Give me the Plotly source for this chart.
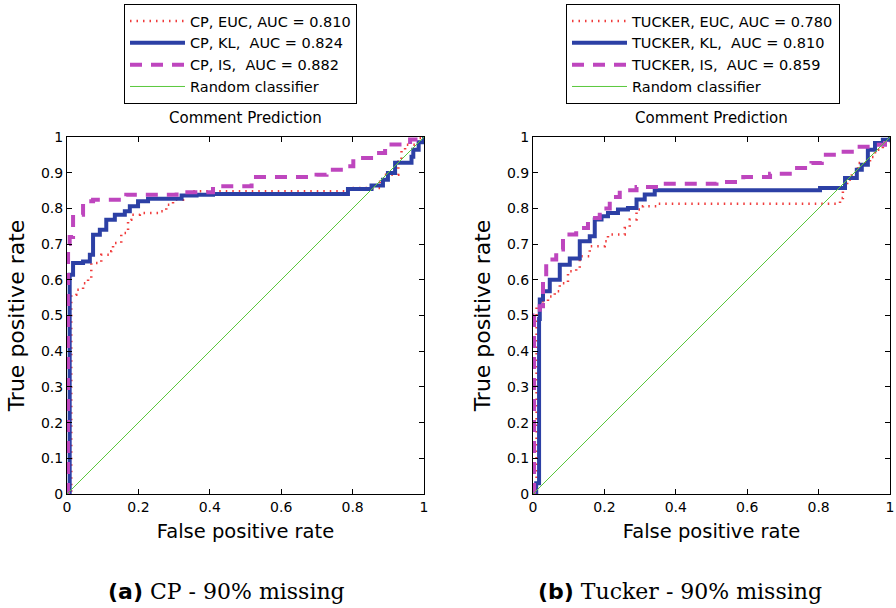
import plotly.graph_objects as go

# ---------------- data ----------------
# Left panel: CP
cp_euc_fpr = [0, 0.012, 0.026, 0.045, 0.059, 0.068, 0.096, 0.124, 0.129, 0.152, 0.171, 0.180, 0.204,
              0.264, 0.278, 0.297, 0.325, 0.353, 0.790, 0.877, 0.886, 0.928, 0.937, 0.947, 0.975, 1.0]
cp_euc_tpr = [0, 0.558, 0.572, 0.590, 0.605, 0.647, 0.670, 0.680, 0.703, 0.731, 0.768, 0.782, 0.787,
              0.792, 0.810, 0.824, 0.836, 0.848, 0.857, 0.875, 0.894, 0.931, 0.964, 0.978, 0.997, 1.0]

cp_kl_fpr = [0, 0.0075, 0.017, 0.045, 0.064, 0.073, 0.092, 0.110, 0.134, 0.162, 0.176, 0.199, 0.227,
             0.321, 0.363, 0.409, 0.787, 0.853, 0.885, 0.899, 0.919, 0.965, 0.970, 0.985, 1.0]
cp_kl_tpr = [0, 0.614, 0.647, 0.651, 0.670, 0.726, 0.740, 0.768, 0.782, 0.792, 0.806, 0.820, 0.827,
             0.836, 0.838, 0.840, 0.854, 0.864, 0.880, 0.899, 0.928, 0.945, 0.964, 0.985, 1.0]

cp_is_fpr = [0, 0.003, 0.0075, 0.017, 0.045, 0.073, 0.166, 0.307, 0.409, 0.517, 0.699, 0.727, 0.783,
             0.802, 0.858, 0.891, 0.961, 1.0]
cp_is_tpr = [0, 0.700, 0.720, 0.782, 0.820, 0.824, 0.838, 0.845, 0.862, 0.888, 0.894, 0.908, 0.918,
             0.941, 0.955, 0.979, 0.993, 1.0]

# Right panel: Tucker
tk_euc_fpr = [0, 0.010, 0.028, 0.042, 0.061, 0.075, 0.098, 0.121, 0.131, 0.159, 0.201, 0.210, 0.257,
              0.271, 0.290, 0.308, 0.346, 0.860, 0.868, 0.880, 0.893, 0.910, 0.944, 0.958, 0.980, 1.0]
tk_euc_tpr = [0, 0.526, 0.540, 0.553, 0.568, 0.590, 0.624, 0.633, 0.666, 0.694, 0.708, 0.727, 0.745,
              0.769, 0.797, 0.806, 0.813, 0.829, 0.860, 0.880, 0.899, 0.927, 0.944, 0.964, 0.985, 1.0]

tk_kl_fpr = [0, 0.009, 0.017, 0.019, 0.028, 0.047, 0.075, 0.103, 0.131, 0.159, 0.173, 0.192, 0.210,
             0.238, 0.266, 0.290, 0.313, 0.341, 0.804, 0.874, 0.907, 0.921, 0.938, 0.958, 0.980, 1.0]
tk_kl_tpr = [0, 0.030, 0.490, 0.545, 0.568, 0.600, 0.642, 0.660, 0.708, 0.722, 0.769, 0.778, 0.787,
             0.797, 0.801, 0.825, 0.839, 0.851, 0.857, 0.885, 0.908, 0.922, 0.964, 0.983, 0.992, 1.0]

tk_is_fpr = [0, 0.003, 0.019, 0.028, 0.037, 0.065, 0.084, 0.121, 0.154, 0.187, 0.215, 0.243, 0.290,
             0.364, 0.514, 0.589, 0.664, 0.728, 0.780, 0.809, 0.860, 0.893, 0.944, 0.986, 1.0]
tk_is_tpr = [0, 0.500, 0.526, 0.610, 0.657, 0.685, 0.727, 0.745, 0.773, 0.800, 0.832, 0.851, 0.860,
             0.869, 0.874, 0.888, 0.897, 0.913, 0.927, 0.950, 0.959, 0.973, 0.978, 1.0, 1.0]

random_fpr = [0, 1]
random_tpr = [0, 1]

cp_names = ["CP, EUC, AUC = 0.810", "CP, KL,  AUC = 0.824", "CP, IS,  AUC = 0.882", "Random classifier"]
tk_names = ["TUCKER, EUC, AUC = 0.780", "TUCKER, KL,  AUC = 0.810", "TUCKER, IS,  AUC = 0.859", "Random classifier"]
panel_title = "Comment Prediction"
x_label = "False positive rate"
y_label = "True positive rate"
captions = ["<b>(a)</b>", "<b>(b)</b>"]
caption_texts = ["CP - 90% missing", "Tucker - 90% missing"]

# ---------------- styling ----------------
RED = "rgb(240,60,60)"
BLUE = "rgb(44,64,165)"
MAG = "rgb(190,70,190)"
GREEN = "rgb(90,200,60)"
FONT = "DejaVu Sans, sans-serif"

styles = [
    dict(color=RED, width=2.5, dash="1.5px,5px"),
    dict(color=BLUE, width=4),
    dict(color=MAG, width=4, dash="12px,9px"),
    dict(color=GREEN, width=1),
]

fig = go.Figure()

panels = [
    ("x", "y", "legend", cp_names,
     [(cp_euc_fpr, cp_euc_tpr), (cp_kl_fpr, cp_kl_tpr), (cp_is_fpr, cp_is_tpr), (random_fpr, random_tpr)]),
    ("x2", "y2", "legend2", tk_names,
     [(tk_euc_fpr, tk_euc_tpr), (tk_kl_fpr, tk_kl_tpr), (tk_is_fpr, tk_is_tpr), (random_fpr, random_tpr)]),
]

for xa, ya, lg, names, series in panels:
    for i, ((fx, ty), nm) in enumerate(zip(series, names)):
        fig.add_trace(go.Scatter(
            x=fx, y=ty, mode="lines", name=nm, xaxis=xa, yaxis=ya, legend=lg,
            line=dict(shape="hv" if i < 3 else "linear", **styles[i]),
        ))

W, H = 896, 608
def px_x(p): return p / W
def px_y(p): return 1 - p / H

ydom = [px_y(494), px_y(137)]
axis_common = dict(
    range=[0, 1], showline=True, linecolor="black", linewidth=1, mirror="ticks",
    ticks="inside", ticklen=5, tickcolor="black", showgrid=False, zeroline=False,
    automargin=False,
    tickfont=dict(family=FONT, size=14, color="black"),
)

fig.update_layout(
    width=W, height=H, margin=dict(l=0, r=0, t=0, b=0, autoexpand=False),
    paper_bgcolor="white", plot_bgcolor="white",
    font=dict(family=FONT, color="black"),
    xaxis=dict(domain=[px_x(67), px_x(424)], anchor="y", dtick=0.2,
               title=dict(text=x_label, font=dict(size=19.5), standoff=10), **axis_common),
    yaxis=dict(domain=ydom, anchor="x", dtick=0.1,
               title=dict(text=y_label, font=dict(size=22), standoff=10), **axis_common),
    xaxis2=dict(domain=[px_x(533), px_x(890)], anchor="y2", dtick=0.2,
                title=dict(text=x_label, font=dict(size=19.5), standoff=10), **axis_common),
    yaxis2=dict(domain=ydom, anchor="x2", dtick=0.1,
                title=dict(text=y_label, font=dict(size=22), standoff=10), **axis_common),
    legend=dict(x=px_x(124), y=px_y(4), xanchor="left", yanchor="top",
                bordercolor="black", borderwidth=1, bgcolor="white",
                font=dict(family=FONT, size=14.5), itemwidth=55, tracegroupgap=0),
    legend2=dict(x=px_x(566), y=px_y(4), xanchor="left", yanchor="top",
                 bordercolor="black", borderwidth=1, bgcolor="white",
                 font=dict(family=FONT, size=14.5), itemwidth=55, tracegroupgap=0),
    showlegend=True,
)

for cx in (245.5, 711.5):
    fig.add_annotation(x=px_x(cx), y=px_y(118), xref="paper", yref="paper",
                       text=panel_title, showarrow=False, yanchor="middle", xanchor="center",
                       font=dict(family=FONT, size=15, color="black"))

for cx, lab, txt in [(226, captions[0], caption_texts[0]), (680, captions[1], caption_texts[1])]:
    fig.add_annotation(x=px_x(cx), y=px_y(591), xref="paper", yref="paper",
                       text=lab + " <span style='font-family:DejaVu Serif, serif'>" + txt + "</span>",
                       showarrow=False, yanchor="middle", xanchor="center",
                       font=dict(family=FONT, size=22, color="black"))

fig.write_html("out.html")
